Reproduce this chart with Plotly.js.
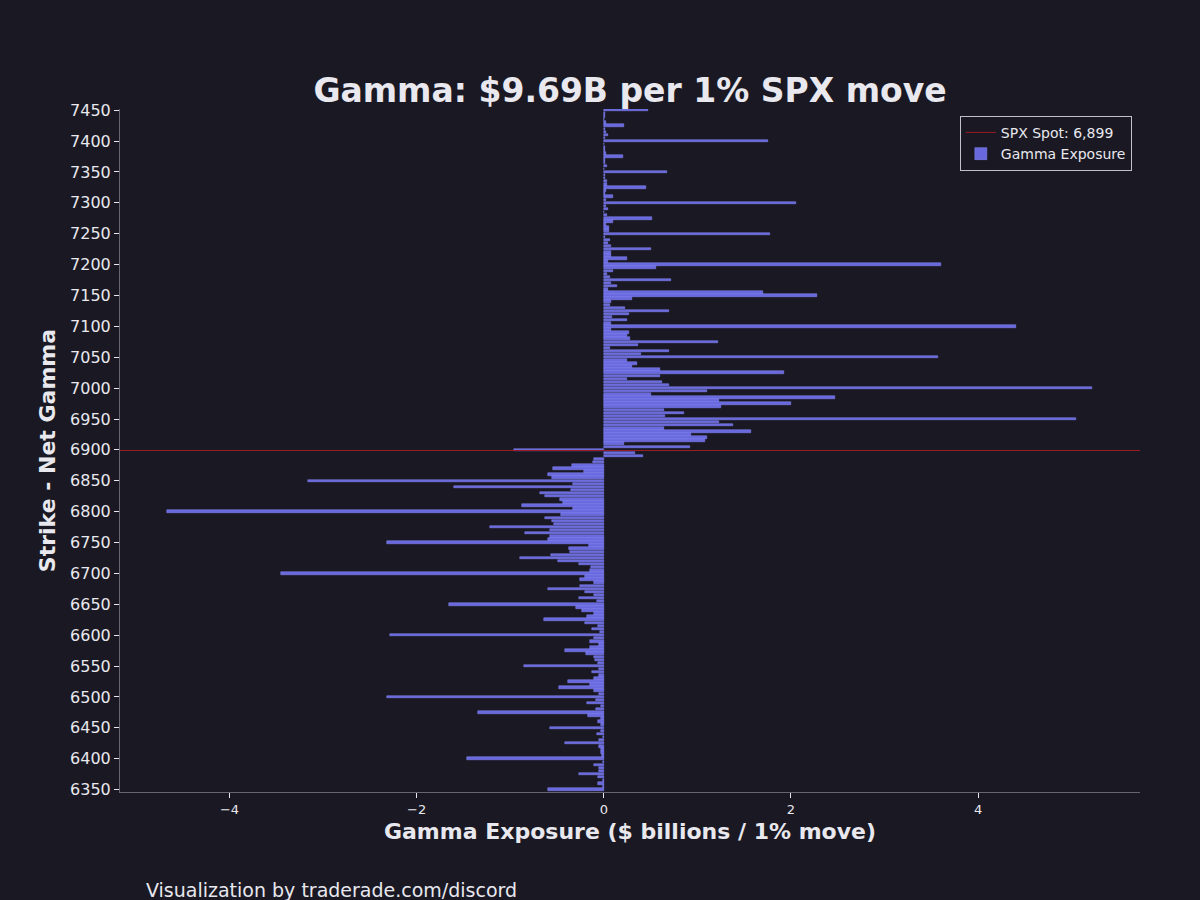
<!DOCTYPE html>
<html>
<head>
<meta charset="utf-8">
<script src="https://cdn.plot.ly/plotly-3.0.1.min.js"></script>
<style>
  html, body { margin: 0; padding: 0; background: #1a1923; }
  #gamma_plot { width: 1200px; height: 900px; }
</style>
</head>
<body>
<div id="gamma_plot"></div>
<script>
// strikes, top to bottom
const strikes = [
  7450, 7445, 7440, 7435, 7430, 7425, 7420, 7415, 7410, 7405,
  7400, 7395, 7390, 7385, 7380, 7375, 7370, 7365, 7360, 7355,
  7350, 7345, 7340, 7335, 7330, 7325, 7320, 7315, 7310, 7305,
  7300, 7295, 7290, 7285, 7280, 7275, 7270, 7265, 7260, 7255,
  7250, 7245, 7240, 7235, 7230, 7225, 7220, 7215, 7210, 7205,
  7200, 7195, 7190, 7185, 7180, 7175, 7170, 7165, 7160, 7155,
  7150, 7145, 7140, 7135, 7130, 7125, 7120, 7115, 7110, 7105,
  7100, 7095, 7090, 7085, 7080, 7075, 7070, 7065, 7060, 7055,
  7050, 7045, 7040, 7035, 7030, 7025, 7020, 7015, 7010, 7005,
  7000, 6995, 6990, 6985, 6980, 6975, 6970, 6965, 6960, 6955,
  6950, 6945, 6940, 6935, 6930, 6925, 6920, 6915, 6910, 6905,
  6900, 6895, 6890, 6885, 6880, 6875, 6870, 6865, 6860, 6855,
  6850, 6845, 6840, 6835, 6830, 6825, 6820, 6815, 6810, 6805,
  6800, 6795, 6790, 6785, 6780, 6775, 6770, 6765, 6760, 6755,
  6750, 6745, 6740, 6735, 6730, 6725, 6720, 6715, 6710, 6705,
  6700, 6695, 6690, 6685, 6680, 6675, 6670, 6665, 6660, 6655,
  6650, 6645, 6640, 6635, 6630, 6625, 6620, 6615, 6610, 6605,
  6600, 6595, 6590, 6585, 6580, 6575, 6570, 6565, 6560, 6555,
  6550, 6545, 6540, 6535, 6530, 6525, 6520, 6515, 6510, 6505,
  6500, 6495, 6490, 6485, 6480, 6475, 6470, 6465, 6460, 6455,
  6450, 6445, 6440, 6435, 6430, 6425, 6420, 6415, 6410, 6405,
  6400, 6395, 6390, 6385, 6380, 6375, 6370, 6365, 6360, 6355,
  6350
]

// $ billions per 1% move, same order as strikes
const gamma = [
  0.47, 0.01, 0.01, 0, 0.02, 0.22, 0.01, 0.02, 0.05, 0.01,
  1.75, 0, 0.01, 0.01, 0.02, 0.2, 0.01, 0.01, 0.03, 0,
  0.68, 0.01, 0.01, 0.03, 0.03, 0.45, 0.02, 0.01, 0.1, 0.02,
  2.05, 0.02, 0.04, 0, 0.03, 0.52, 0.1, 0.02, 0.06, 0.06,
  1.78, 0.01, 0.07, 0.04, 0.08, 0.5, 0.08, 0.08, 0.25, 0.05,
  3.6, 0.56, 0.1, 0.03, 0.07, 0.72, 0.08, 0.14, 0.05, 1.7,
  2.28, 0.3, 0.08, 0.07, 0.23, 0.7, 0.27, 0.09, 0.25, 0.08,
  4.4, 0.08, 0.27, 0.25, 0.28, 1.22, 0.37, 0.07, 0.7, 0.4,
  3.57, 0.25, 0.35, 0.3, 0.6, 1.93, 0.6, 0.25, 0.62, 0.7,
  5.22, 1.1, 0.5, 2.47, 1.23, 2.0, 1.25, 0.64, 0.86, 0.65,
  5.05, 1.23, 1.38, 0.64, 1.57, 0.93, 1.1, 1.08, 0.22, 0.92,
  -0.96, 0.33, 0.42, -0.11, -0.12, -0.34, -0.54, -0.21, -0.6, -0.55,
  -3.16, -0.33, -1.6, -0.35, -0.68, -0.63, -0.47, -0.44, -0.87, -0.33,
  -4.67, -0.46, -0.63, -0.55, -0.53, -1.22, -0.57, -0.84, -0.58, -0.6,
  -2.32, -0.16, -0.37, -0.36, -0.56, -0.9, -0.49, -0.27, -0.14, -0.15,
  -3.45, -0.2, -0.25, -0.11, -0.25, -0.6, -0.2, -0.1, -0.26, -0.07,
  -1.65, -0.3, -0.23, -0.1, -0.18, -0.64, -0.2, -0.06, -0.13, -0.04,
  -2.28, -0.11, -0.15, -0.05, -0.15, -0.42, -0.19, -0.1, -0.09, -0.06,
  -0.85, -0.05, -0.13, -0.05, -0.11, -0.38, -0.15, -0.48, -0.1, -0.05,
  -2.32, -0.08, -0.18, -0.03, -0.08, -1.34, -0.17, -0.03, -0.06, -0.03,
  -0.57, -0.03, -0.07, -0.01, -0.05, -0.41, -0.05, -0.03, -0.03, -0.02,
  -1.46, -0.01, -0.1, -0.05, -0.05, -0.27, -0.06, -0.01, -0.06, -0.01,
  -0.6
]

const spot = 6899
const total_gamma = '9.69'

const bg = '#1a1923'
const fg = '#e8e8ee'
const font = 'DejaVu Sans, sans-serif'

const bars = {
    type: 'bar',
    orientation: 'h',
    x: gamma,
    y: strikes,
    width: 4,
    name: 'Gamma Exposure',
    marker: {
        color: 'rgba(110,110,232,0.95)',
        line: { color: '#8a8aff', width: 0.5 }
    }
}

Plotly.newPlot('gamma_plot', [bars], {
    width: 1200,
    height: 900,
    paper_bgcolor: bg,
    plot_bgcolor: bg,
    font: { family: font, color: fg },
    title: {
        text: '<b>Gamma: $' + total_gamma + 'B per 1% SPX move</b>',
        font: { size: 33, color: fg, family: font },
        x: 0.525, xanchor: 'center',
        y: 0.9, yanchor: 'middle'
    },
    margin: { t: 109, r: 60, b: 108, l: 120 },
    bargap: 0,
    xaxis: {
        range: [-5.17, 5.73],
        dtick: 2,
        showgrid: false,
        zeroline: false,
        showline: true,
        linecolor: '#666670',
        ticks: 'outside',
        ticklen: 5,
        tickcolor: fg,
        tickfont: { size: 13, color: fg },
        title: {
            text: '<b>Gamma Exposure ($ billions / 1% move)</b>',
            font: { size: 22, color: fg },
            standoff: 8
        }
    },
    yaxis: {
        range: [6346, 7452],
        dtick: 50,
        showgrid: false,
        zeroline: false,
        showline: true,
        linecolor: '#666670',
        ticks: 'outside',
        ticklen: 5,
        tickcolor: fg,
        tickfont: { size: 16, color: fg },
        title: {
            text: '<b>Strike - Net Gamma</b>',
            font: { size: 22, color: fg },
            standoff: 8
        }
    },
    shapes: [{
        type: 'line',
        xref: 'paper', x0: 0, x1: 1,
        yref: 'y', y0: spot, y1: spot,
        line: { color: '#9a1c24', width: 1 },
        layer: 'above',
        showlegend: true,
        name: 'SPX Spot: ' + spot.toLocaleString('en-US'),
        legendrank: 1
    }],
    showlegend: true,
    legend: {
        x: 0.992, xanchor: 'right',
        y: 0.99, yanchor: 'top',
        bgcolor: bg,
        bordercolor: '#c0c0c6',
        borderwidth: 1,
        font: { size: 14, color: fg },
        traceorder: 'normal'
    },
    annotations: [{
        text: 'Visualization by traderade.com/discord',
        xref: 'paper', yref: 'paper',
        x: 0.0233, y: -0.143,
        xanchor: 'left', yanchor: 'middle',
        showarrow: false,
        font: { size: 19, color: fg }
    }]
}, { displayModeBar: false })
</script>
</body>
</html>
